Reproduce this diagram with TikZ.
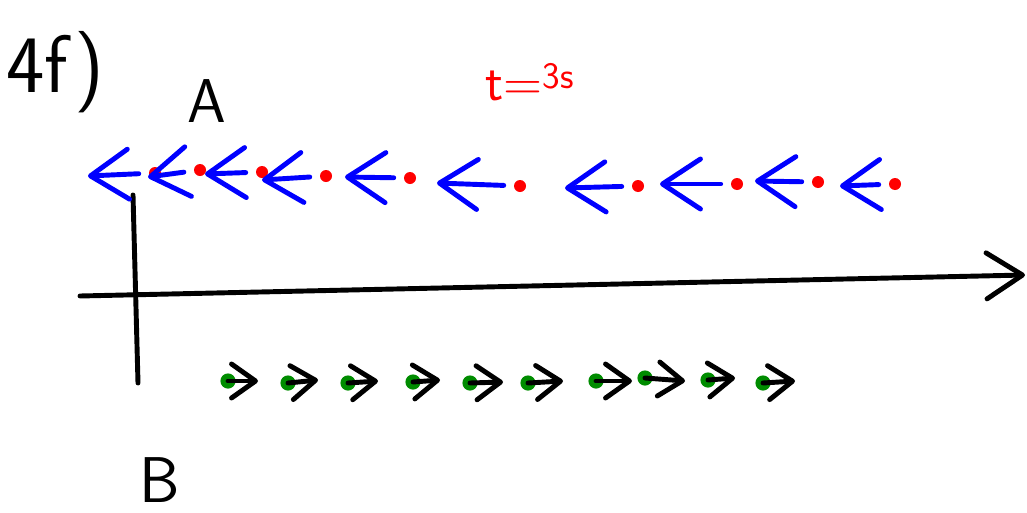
\documentclass[tikz,border=0pt]{standalone}
\usepackage{xcolor}
\usepackage{tikz}
\usetikzlibrary{positioning,calc,arrows.meta}

\definecolor{penblue}{RGB}{0,0,255}
\definecolor{penred}{RGB}{255,0,0}
\definecolor{pengreen}{RGB}{0,140,0}

\tikzset{
    pen/.style={line width=3.5pt, line cap=round, line join=round},
    velA/.style={pen, draw=penblue, shorten <=0.25cm, -{Straight Barb[round,length=0.95cm,width=1.25cm]}},
    velB/.style={pen, draw=black, -{Straight Barb[round,length=0.6cm,width=0.85cm]}},
    dotA/.style={circle, fill=penred, inner sep=0pt, minimum size=0.3cm},
    dotB/.style={circle, fill=pengreen, inner sep=0pt, minimum size=0.38cm},
    hand/.style={font=\sffamily, inner sep=0pt},
}

\begin{document}
\begin{tikzpicture}[x=0.025cm,y=-0.025cm]
        \useasboundingbox (0,0) rectangle (1027,513);

        \node[hand] (part) at (55,72) {\fontsize{58}{58}\selectfont 4f)};
        \node[hand] (labA) at (207,101) {\fontsize{44}{44}\selectfont A};
        \node[hand] (labB) at (160,480) {\fontsize{46}{46}\selectfont B};
        \node[hand, text=penred] (time) at (530,82) {\fontsize{38}{38}\selectfont t=\textsuperscript{3s}};

        \coordinate (xL) at (80,296);
        \coordinate (xR) at (1025,275);
        \coordinate (yT) at (133,195);
        \coordinate (yB) at (138,383);
        \draw[pen, -{Straight Barb[round,length=0.9cm,width=1.15cm]}] (xL) -- (xR);
        \draw[pen] (yT) -- (yB);

        \foreach \dx/\dy/\tx/\ty [count=\i] in {155/173/88/176, 200/170/148/177, 262/172/205/174,
            326/176/262/180, 410/178/345/177, 520/186/437/183, 638/186/565/188,
            737/184/660/184, 818/182/755/181, 895/184/840/186} {
            \node[dotA] (a\i) at (\dx,\dy) {};
            \coordinate (ta\i) at (\tx,\ty);
            \draw[velA] (a\i) -- (ta\i);
        }

        \foreach \dx/\dy/\tx/\ty [count=\i] in {228/381/258/381, 288/383/318/380, 348/383/378/381,
            413/382/440/380, 470/383/503/382, 528/383/563/381, 596/381/632/381,
            645/378/685/381, 708/380/735/378, 763/383/795/381} {
            \node[dotB] (b\i) at (\dx,\dy) {};
            \coordinate (tb\i) at (\tx,\ty);
            \draw[velB] (b\i.center) -- (tb\i);
        }
\end{tikzpicture}
\end{document}
